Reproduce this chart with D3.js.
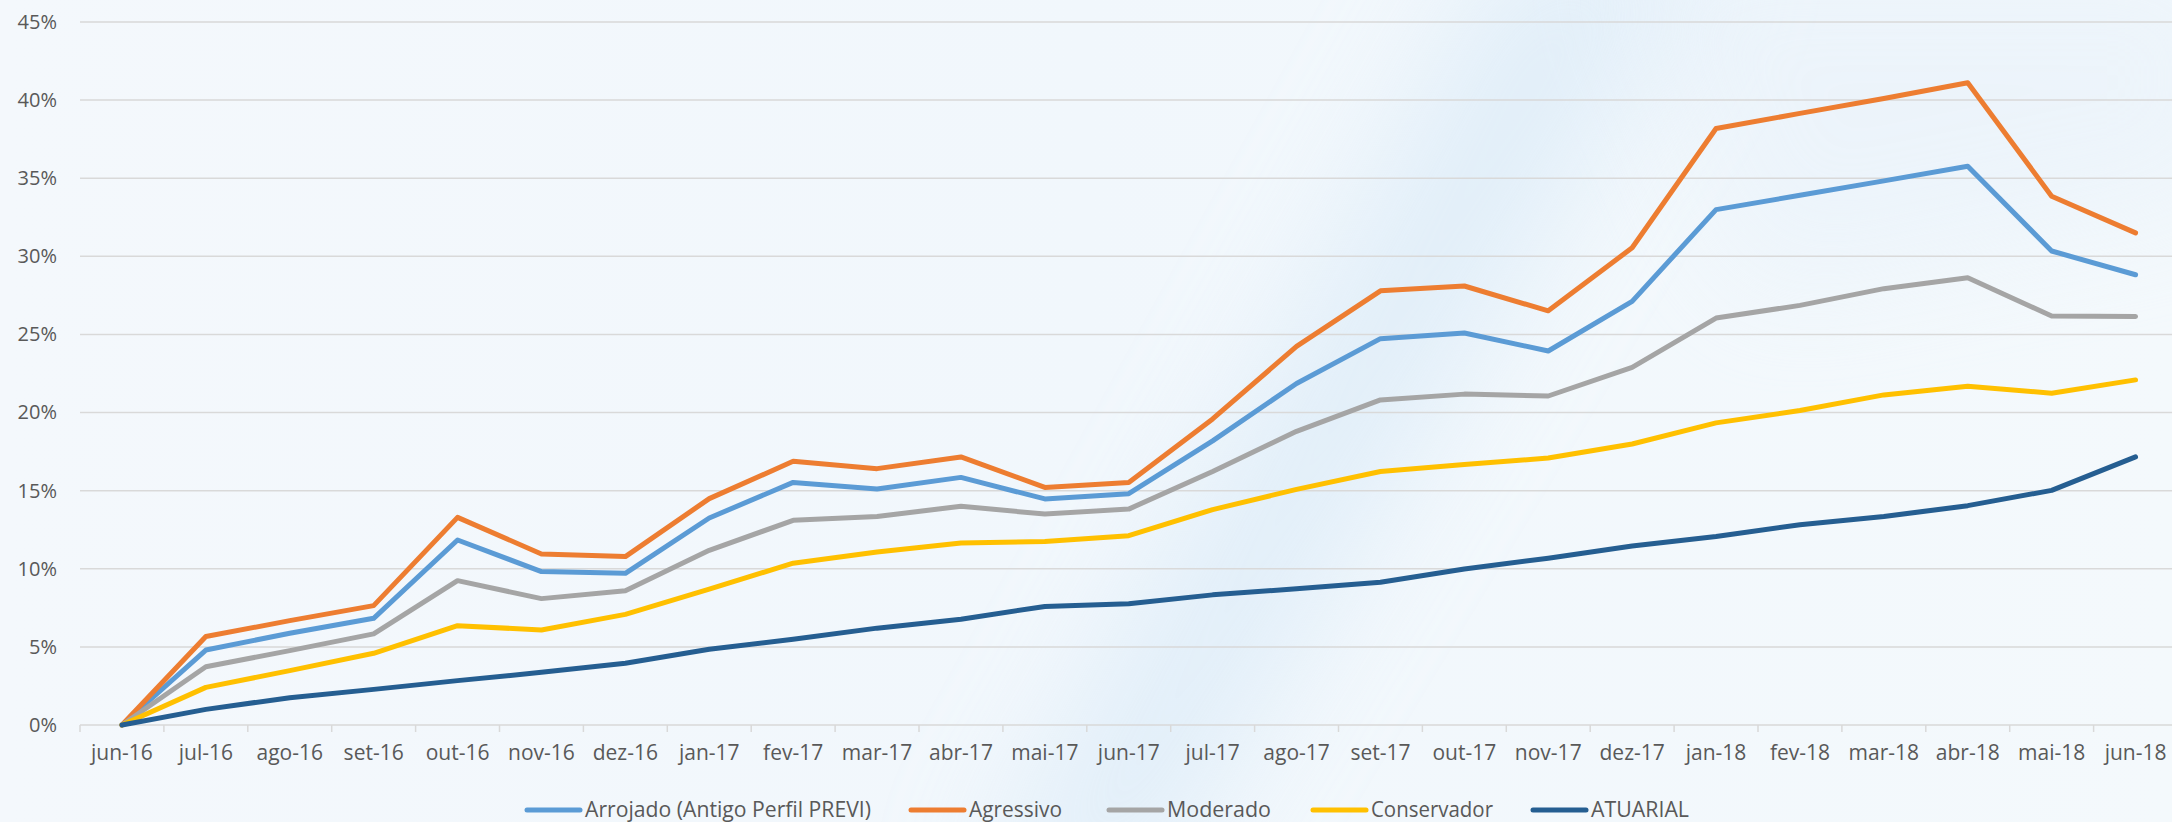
<!DOCTYPE html>
<html><head><meta charset="utf-8">
<script src="https://cdn.jsdelivr.net/npm/d3@7"></script>
<style>html,body{margin:0;padding:0;overflow:hidden;background:#f4f8fc}</style>
</head><body><svg id="c" width="2172" height="822"></svg>
<script>
// ---- data ----
const categories = ["jun-16","jul-16","ago-16","set-16","out-16","nov-16","dez-16","jan-17","fev-17","mar-17","abr-17","mai-17","jun-17","jul-17","ago-17","set-17","out-17","nov-17","dez-17","jan-18","fev-18","mar-18","abr-18","mai-18","jun-18"];
const seriesNames = ["Arrojado (Antigo Perfil PREVI)","Agressivo","Moderado","Conservador","ATUARIAL"];
const arrojado    = [0,4.80,5.87,6.83,11.84,9.82,9.71,13.25,15.53,15.11,15.85,14.47,14.81,18.19,21.86,24.73,25.09,23.94,27.12,32.99,33.91,34.83,35.77,30.34,28.82];
const agressivo   = [0,5.66,6.68,7.64,13.29,10.95,10.78,14.49,16.88,16.41,17.16,15.21,15.53,19.59,24.24,27.79,28.10,26.51,30.55,38.18,39.15,40.10,41.11,33.85,31.50];
const moderado    = [0,3.73,4.76,5.83,9.24,8.09,8.60,11.18,13.10,13.35,14.00,13.50,13.82,16.23,18.80,20.81,21.18,21.06,22.89,26.05,26.86,27.93,28.63,26.18,26.15];
const conservador = [0,2.41,3.48,4.59,6.36,6.08,7.08,8.70,10.36,11.07,11.65,11.75,12.12,13.79,15.08,16.23,16.67,17.09,17.99,19.34,20.13,21.13,21.69,21.24,22.09];
const atuarial    = [0,1.00,1.75,2.28,2.84,3.37,3.95,4.85,5.49,6.20,6.77,7.59,7.76,8.33,8.72,9.14,9.99,10.68,11.46,12.07,12.82,13.35,14.04,15.02,17.16];
const yTicks = [0,5,10,15,20,25,30,35,40,45];

// ---- styles / layout ----
const colors = ["#5B9BD5","#ED7D31","#A5A5A5","#FFC000","#255E91"];
const legendTextWidths = [286,93,104,122,98];
const legendGaps = [40,47,42,40,0];
const W = 2172, H = 822;
const left = 80, bandW = 83.9, yTop = 22, yBottom = 725;

const svg = d3.select("#c");
const defs = svg.append("defs");
const bg = defs.append("linearGradient").attr("id","bg").attr("x1","0").attr("y1","0").attr("x2","1").attr("y2","0");
bg.append("stop").attr("offset","0").attr("stop-color","#f4f8fc");
bg.append("stop").attr("offset","0.5").attr("stop-color","#f1f7fc");
bg.append("stop").attr("offset","1").attr("stop-color","#f4f9fc");
defs.append("filter").attr("id","blur").attr("x","-50%").attr("y","-50%").attr("width","200%").attr("height","200%")
  .append("feGaussianBlur").attr("stdDeviation", 60);

svg.append("rect").attr("width",W).attr("height",H).attr("fill","url(#bg)");
svg.append("polygon").attr("points","980,900 1140,900 1720,-60 1510,-60")
  .attr("fill","#d8e9f7").attr("opacity",0.65).attr("filter","url(#blur)");
svg.append("polygon").attr("points","1600,-60 2250,-60 2250,200 1750,300")
  .attr("fill","#e4eff9").attr("opacity",0.45).attr("filter","url(#blur)");

const x = d3.scaleBand().domain(categories).range([left, left + bandW*categories.length]).padding(0);
const y = d3.scaleLinear().domain([0,45]).range([yBottom, yTop]);
const cx = d => x(d) + x.bandwidth()/2;

// gridlines
svg.append("g").selectAll("line").data(yTicks).join("line")
  .attr("x1", left).attr("x2", W + 20)
  .attr("y1", d => y(d)).attr("y2", d => y(d))
  .attr("stroke","#d9d9d9").attr("stroke-width",1.5);

// category tick marks at band boundaries
const bounds = categories.map(c => x(c)).concat([x.range()[1]]);
svg.append("g").selectAll("line").data(bounds).join("line")
  .attr("x1", d => d).attr("x2", d => d)
  .attr("y1", yBottom).attr("y2", yBottom + 7)
  .attr("stroke","#d9d9d9").attr("stroke-width",1.5);

// y axis labels
const yAxis = svg.append("g").attr("transform",`translate(${left},0)`)
  .call(d3.axisLeft(y).tickValues(yTicks).tickFormat(d => d + "%").tickSize(0).tickPadding(23));
yAxis.select(".domain").remove();
yAxis.selectAll("text").attr("font-family","Open Sans").attr("font-size",20).attr("fill","#595959");

// x axis labels
const xAxis = svg.append("g").attr("transform",`translate(0,${yBottom})`)
  .call(d3.axisBottom(x).tickSize(0).tickPadding(20));
xAxis.select(".domain").remove();
xAxis.selectAll("text").attr("font-family","Open Sans").attr("font-size",21).attr("fill","#595959");

// lines
const allSeries = [arrojado, agressivo, moderado, conservador, atuarial];
const line = d3.line().x((d,i) => cx(categories[i])).y(d => y(d));
svg.append("g").selectAll("path").data(allSeries).join("path")
  .attr("d", line)
  .attr("fill","none")
  .attr("stroke",(d,i) => colors[i])
  .attr("stroke-width",5)
  .attr("stroke-linejoin","round")
  .attr("stroke-linecap","round");

// legend
const lg = svg.append("g");
let lx = 527;
const ly = 810;
seriesNames.forEach((name,i) => {
  lg.append("line").attr("x1",lx).attr("x2",lx+53).attr("y1",ly).attr("y2",ly)
    .attr("stroke",colors[i]).attr("stroke-width",5).attr("stroke-linecap","round");
  lg.append("text").attr("x",lx+58).attr("y",ly).attr("dy","0.35em")
    .attr("font-family","Open Sans").attr("font-size",21).attr("fill","#595959")
    .attr("textLength",legendTextWidths[i]).attr("lengthAdjust","spacingAndGlyphs")
    .text(name);
  lx += 58 + legendTextWidths[i] + legendGaps[i];
});
</script></body></html>
